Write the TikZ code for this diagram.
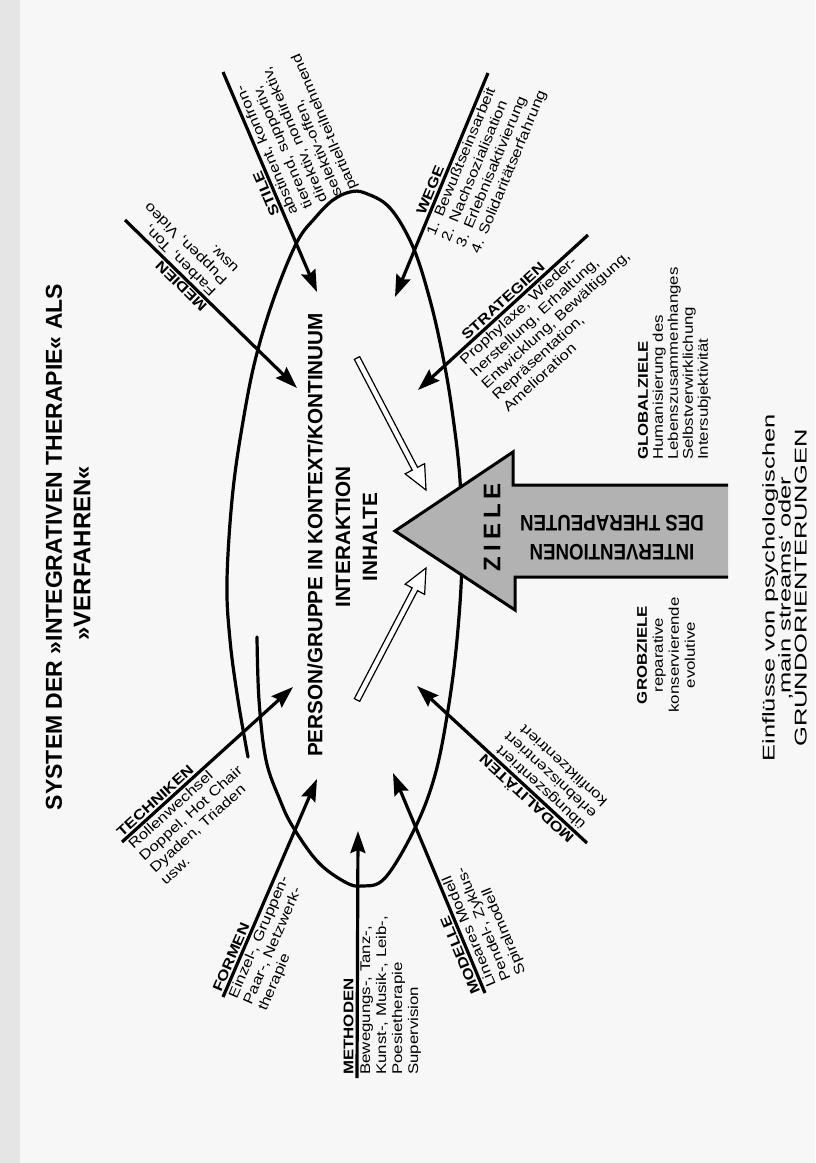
\documentclass[tikz,border=0pt]{standalone}
\usepackage{fontspec}
\setmainfont{Liberation Sans}
\newfontfamily\itemf[FakeStretch=1.2]{Liberation Sans}
\newfontfamily\widef[FakeStretch=1.5]{Liberation Sans}
\usetikzlibrary{arrows.meta,calc}
\newcommand\hollowarrow[2]{%
  \coordinate (hH) at ($(#2)!24pt!(#1)$);
  \draw[line width=1.2pt, fill=white, line join=miter]
    ($(#1)!3pt!90:(#2)$) -- ($(hH)!3pt!90:(#2)$) -- ($(hH)!11pt!90:(#2)$) -- (#2)
    -- ($(hH)!11pt!-90:(#2)$) -- ($(hH)!3pt!-90:(#2)$) -- ($(#1)!3pt!-90:(#2)$) -- cycle;}
\begin{document}
\begin{tikzpicture}[x=1pt,y=-1pt,
  arr/.style={line width=3.2pt, -{Stealth[length=22pt,width=15pt,inset=3pt]}},
  head/.style={font=\itemf\fontsize{14}{15}\selectfont\bfseries, inner sep=3.2pt, anchor=south west},
  items/.style={font=\itemf\fontsize{14}{16}\selectfont, align=left, inner sep=3.2pt, anchor=north west},
  big/.style={font=\fontsize{20.7}{27}\selectfont\bfseries, inner sep=0pt}]
\useasboundingbox (0,0) rectangle (815,1163);
\fill[black!3] (0,0) rectangle (815,1163);
\fill[black!10] (0,0) rectangle (20,1163);

% spiral / ellipse
\draw[line width=3.2pt, line cap=round] plot[smooth, tension=0.6] coordinates {
 (257,637) (259,700) (266,760) (280,800) (293,827) (318,862) (345,882) (362,886)
 (385,878) (415,828) (435,775) (448,710) (457,640) (462,560) (460,480) (452,410)
 (443,357) (430,300) (413,247) (390,208) (365,193) (350,192) (333,200) (315,218)
 (297,242) (275,295) (257,353) (245,410) (233,490) (227,580) (230,640) (238,700) (248,757)};

% arrow coordinates
\coordinate (mS) at (125,220);  \coordinate (mT) at (297,388);
\coordinate (sS) at (223,72);   \coordinate (sT) at (317,292);
\coordinate (wS) at (488,73);   \coordinate (wT) at (395,297);
\coordinate (gS) at (588,235);  \coordinate (gT) at (418,390);
\coordinate (tS) at (122,842);  \coordinate (tT) at (293,687);
\coordinate (fS) at (223,997);  \coordinate (fT) at (317,779);
\coordinate (meS) at (357,1078); \coordinate (meT) at (358,831);
\coordinate (moS) at (485,993); \coordinate (moT) at (393,773);
\coordinate (maS) at (587,843); \coordinate (maT) at (417,686);

\draw[arr] (mS) -- (mT);
\draw[arr] (sS) -- (sT);
\draw[arr] (wS) -- (wT);
\draw[arr] (gS) -- (gT);
\draw[arr] (tS) -- (tT);
\draw[arr] (fS) -- (fT);
\draw[arr] (meS) -- (meT);
\draw[arr] (moS) -- (moT);
\draw[arr] (maS) -- (maT);

% labels
\node[head, rotate=135.5] (medH) at ($(mT)!118pt!(mS)$) {MEDIEN};
\node[items, rotate=135.5] (medI) at ($(mT)!122pt!(mS)$) {Farben, Ton,\\Puppen, Video\\usw.};
\node[head, rotate=113] (stiH) at ($(sT)!83pt!(sS)$) {STILE};
\node[items, rotate=113] (stiI) at ($(sT)!77pt!(sS)$) {abstinent, konfron-\\tierend, supportiv,\\direktiv, nondirektiv,\\selektiv-offen,\\partiell-teilnehmend};
\node[head, rotate=67.5] (wegH) at ($(wT)!83pt!(wS)$) {WEGE};
\node[items, rotate=67.5] (wegI) at ($(wT)!68pt!(wS)$) {1. Bewußtseinsarbeit\\2. Nachsozialisation\\3. Erlebnisaktivierung\\4. Solidaritätserfahrung};
\node[head, rotate=42.4] (strH) at ($(gT)!66pt!(gS)$) {STRATEGIEN};
\node[items, rotate=42.4] (strI) at ($(gT)!48pt!(gS)$) {Prophylaxe, Wieder-\\herstellung, Erhaltung,\\Entwicklung, Bewältigung,\\Repräsentation,\\Amelioration};
\node[head, rotate=42.2] (tecH) at (tS) {TECHNIKEN};
\node[items, rotate=42.2] (tecI) at (tS) {Rollenwechsel\\Doppel, Hot Chair\\Dyaden, Triaden\\usw.};
\node[head, rotate=66.7] (forH) at (fS) {FORMEN};
\node[items, rotate=66.7] (forI) at (fS) {Einzel-, Gruppen-\\Paar-, Netzwerk-\\therapie};
\node[head, rotate=90] (metH) at (meS) {METHODEN};
\node[items, rotate=90] (metI) at (meS) {Bewegungs-, Tanz-,\\Kunst-, Musik-, Leib-,\\Poesietherapie\\Supervision};
\node[head, rotate=112.7] (modH) at (moS) {MODELLE};
\node[items, rotate=112.7] (modI) at (moS) {Lineares Modell\\Pendel-, Zyklus-\\Spiralmodell};
\node[head, rotate=137.3] (malH) at ($(maS)!10pt!(maT)$) {MODALITÄTEN};
\node[items, rotate=137.3] (malI) at ($(maS)!10pt!(maT)$) {übungszentriert\\erlebniszentriert\\konfliktzentriert};

% hollow arrows
\coordinate (h1a) at (357,358); \coordinate (h1b) at (426,490);
\coordinate (h2a) at (357,700); \coordinate (h2b) at (426,568);
\hollowarrow{h1a}{h1b}
\hollowarrow{h2a}{h2b}

% big grey arrow
\fill[black!30] (395,531) -- (513,452) -- (513,485) -- (728,485) -- (728,577) -- (515,577) -- (515,610) -- cycle;
\draw[line width=3pt, line join=miter] (728,485) -- (513,485) -- (513,452) -- (395,531) -- (515,610) -- (515,577) -- (728,577);
\node[rotate=90, font=\fontsize{24}{24}\selectfont\bfseries, inner sep=0pt] (ziele) at (492,527) {Z\kern5pt I\kern5pt E\kern5pt L\kern5pt E};
\node[rotate=180, yscale=1.2, align=center, font=\fontsize{18.7}{24}\selectfont\bfseries, inner sep=0pt] (interv) at (612,538) {INTERVENTIONEN\\DES THERAPEUTEN};

% title and centre
\node[rotate=90, font=\fontsize{23}{23}\selectfont\bfseries, inner sep=0pt] (title1) at (54,547) {SYSTEM DER »INTEGRATIVEN THERAPIE« ALS};
\node[rotate=90, font=\fontsize{24}{24}\selectfont\bfseries, inner sep=0pt] (title2) at (82,553) {»VERFAHREN«};
\node[big, rotate=90] (person) at (315,535) {PERSON/GRUPPE IN KONTEXT/KONTINUUM};
\node[big, rotate=90] (interak) at (343,537) {INTERAKTION};
\node[big, rotate=90] (inhalte) at (370,537) {INHALTE};

% goals
\node[rotate=90, anchor=north, align=center, inner sep=0pt, font=\itemf\fontsize{14}{16}\selectfont] (grob) at (637,655) {\bfseries GROBZIELE\\reparative\\konservierende\\evolutive};
\node[rotate=90, anchor=north west, align=left, inner sep=0pt, font=\itemf\fontsize{14}{15}\selectfont] (glob) at (638,460) {\bfseries GLOBALZIELE\\Humanisierung des\\Lebenszusammenhanges\\Selbstverwirklichung\\Intersubjektivität};
\node[rotate=90, anchor=north, align=center, inner sep=0pt, font=\widef\fontsize{17}{16}\selectfont] (einfl) at (762,588) {Einflüsse von psychologischen\\‚main streams‘ oder\\GRUNDORIENTERUNGEN};
\end{tikzpicture}
\end{document}
